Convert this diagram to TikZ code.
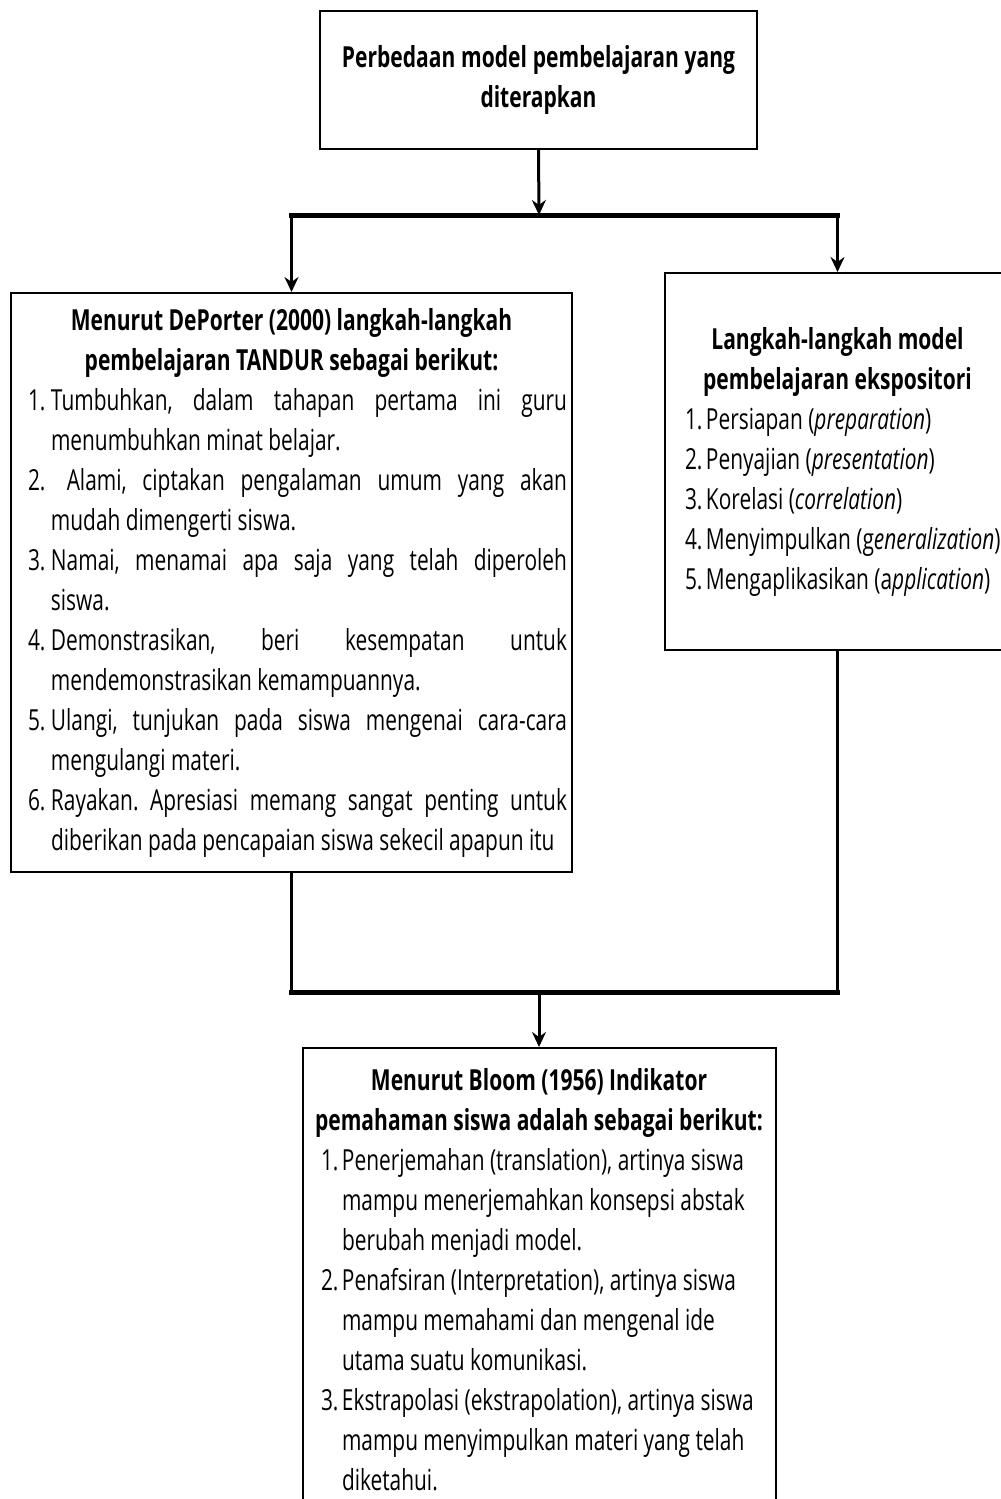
\documentclass[tikz,border=0pt]{standalone}
\usepackage{fontspec}
\setmainfont{Open Sans}[
	UprightFeatures={FakeStretch=0.72},
	ItalicFeatures={FakeStretch=0.72},
	BoldFeatures={FakeStretch=0.725}]
\usetikzlibrary{positioning,arrows.meta}

\hyphenpenalty=10000
\exhyphenpenalty=10000
\tolerance=10000
\frenchspacing

% natural word spaces (no ragged .3333em spaces)
\newcommand{\natsp}{\spaceskip=0pt\xspaceskip=0pt\relax}
% numbered item with hanging indent
\newcommand{\itm}[3][10.5pt]{\par\noindent\hangindent=#1\hangafter=1\makebox[#1][l]{#2}#3}

\tikzset{
	box/.style={draw=black, line width=1pt, inner sep=0pt, font=\fontsize{14.5pt}{20pt}\selectfont},
	link/.style={-{Stealth[length=7.5pt,width=7pt,inset=2.5pt]}, line width=1.5pt},
	stem/.style={line width=1.5pt},
	bar/.style={line width=2.5pt, line cap=rect},
}

\begin{document}
\begin{tikzpicture}[x=0.5pt,y=-0.5pt]
	\useasboundingbox (0,0) rectangle (1001,1499);
	\fill[white] (0,0) rectangle (1001,1499);

	\node[box, minimum width=218.5pt, minimum height=69pt, text width=205pt, align=center] (judul) at (538.5,80) {\natsp\bfseries Perbedaan model pembelajaran yang\\ diterapkan};

	\node[box, minimum width=280.5pt, minimum height=289.5pt, text width=275.5pt, align=justify] (deporter) at (291.5,582.5) {%
		\natsp
		{\centering\bfseries Menurut DePorter (2000) langkah-langkah\\ pembelajaran TANDUR sebagai berikut:\par}
		\leftskip=6pt
		\itm[11.5pt]{1.}{Tumbuhkan, dalam tahapan pertama ini guru\linebreak menumbuhkan minat belajar.}
		\itm[11.5pt]{2.}{\ Alami, ciptakan pengalaman umum yang akan\linebreak mudah dimengerti siswa.}
		\itm[11.5pt]{3.}{Namai, menamai apa saja yang telah diperoleh\linebreak siswa.}
		\itm[11.5pt]{4.}{Demonstrasikan, beri kesempatan untuk\linebreak mendemonstrasikan kemampuannya.}
		\itm[11.5pt]{5.}{Ulangi, tunjukan pada siswa mengenai cara-cara\linebreak mengulangi materi.}
		\itm[11.5pt]{6.}{Rayakan. Apresiasi memang sangat penting untuk\linebreak diberikan pada pencapaian siswa sekecil apapun itu}
		\par
	};

	\node[box, minimum width=172.5pt, minimum height=188.5pt, text width=165pt] (ekspo) at (837.5,461.5) {%
		\natsp
		{\centering\bfseries Langkah-langkah model\\ pembelajaran ekspositori\par}
		\raggedright\leftskip=6.25pt
		\itm{1.}{\mbox{Persiapan (\textit{preparation})}}
		\itm{2.}{\mbox{Penyajian (\textit{presentation})}}
		\itm{3.}{\mbox{Korelasi (\textit{correlation})}}
		\itm{4.}{\mbox{Menyimpulkan (g\textit{eneralization})}}
		\itm{5.}{\mbox{Mengaplikasikan (a\textit{pplication})}}
		\par
	};

	\coordinate (fork) at (539,215);
	\coordinate (join) at (539,992);

	\node[box, inner ysep=10pt, below=27.5pt of join, minimum width=236.5pt, text width=232pt] (bloom) {%
		\natsp
		{\centering\bfseries Menurut Bloom (1956) Indikator\\ pemahaman siswa adalah sebagai berikut:\par}
		\raggedright\leftskip=7pt
		\itm{1.}{Penerjemahan (translation), artinya siswa\newline mampu menerjemahkan konsepsi abstak\newline berubah menjadi model.}
		\itm{2.}{Penafsiran (Interpretation), artinya siswa\newline mampu memahami dan mengenal ide\newline utama suatu komunikasi.}
		\itm{3.}{Ekstrapolasi (ekstrapolation), artinya siswa\newline mampu menyimpulkan materi yang telah\newline diketahui.}
		\par\vspace*{8pt}
	};

	\draw[link] (judul.south) -- (fork);
	\draw[bar] (fork -| deporter.north) -- (fork -| ekspo.north);
	\draw[link] (fork -| deporter.north) -- (deporter.north);
	\draw[link] (fork -| ekspo.north) -- (ekspo.north);

	\draw[stem] (deporter.south) -- (join -| deporter.south);
	\draw[stem] (ekspo.south) -- (join -| ekspo.south);
	\draw[bar] (join -| deporter.south) -- (join -| ekspo.south);
	\draw[link] (join) -- (bloom.north);
\end{tikzpicture}
\end{document}
